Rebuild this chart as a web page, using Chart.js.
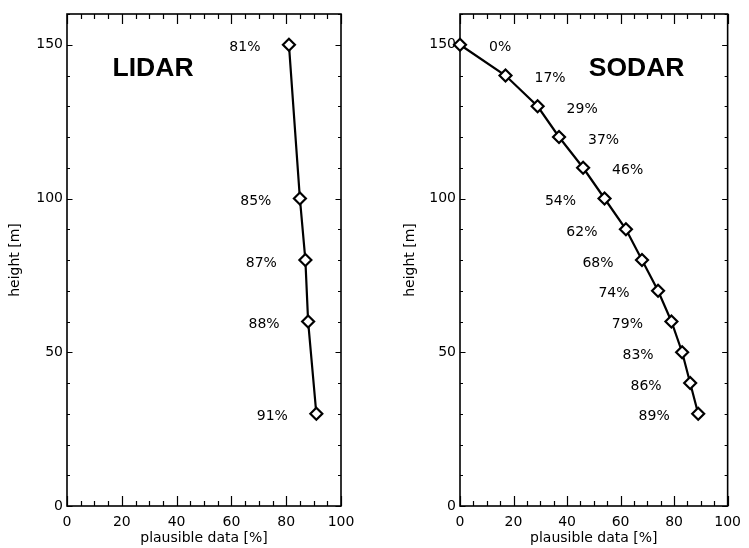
<!DOCTYPE html>
<html>
<head>
<meta charset="utf-8">
<script src="https://cdn.jsdelivr.net/npm/chart.js@4"></script>
<style>
  html, body { margin: 0; padding: 0; background: #fff; }
  #wrap { position: relative; width: 749px; height: 548px; }
  #wrap canvas { position: absolute; top: 0; }
</style>
</head>
<body>
<div id="wrap">
  <canvas id="lidar" width="374" height="548" style="left:0"></canvas>
  <canvas id="sodar" width="375" height="548" style="left:374px"></canvas>
</div>
<script>
// heights [m] and share of plausible data [%] per instrument
const lidarHeights = [150, 100, 80, 60, 30];
const lidarPlausible = [81, 85, 87, 88, 91];

const sodarHeights = [150, 140, 130, 120, 110, 100, 90, 80, 70, 60, 50, 40, 30];
const sodarPlausible = [0, 17, 29, 37, 46, 54, 62, 68, 74, 79, 83, 86, 89];

const xMajor = 20, xStep = 5;
const yMajor = 50, yStep = 10;

const FONT = '"DejaVu Sans", Verdana, sans-serif';
const NAME_FONT = '"Liberation Sans", Arial, Helvetica, sans-serif';
Chart.defaults.font.family = FONT;
Chart.defaults.font.size = 14;
Chart.defaults.color = '#000';

// IDL style box: frame plus inward ticks on all four sides,
// percentage labels beside each point and the panel name
const boxPlot = {
  id: 'boxPlot',
  beforeDatasetsDraw(chart) {
    const { ctx, chartArea: a, scales: { x, y } } = chart;
    ctx.save();
    ctx.strokeStyle = '#000';
    ctx.lineWidth = 1.2;
    ctx.beginPath();
    x.ticks.forEach(t => {
      const px = Math.round(x.getPixelForValue(t.value)) + 0.5;
      const len = t.value % xMajor === 0 ? 10 : 5;
      ctx.moveTo(px, a.bottom); ctx.lineTo(px, a.bottom - len);
      ctx.moveTo(px, a.top); ctx.lineTo(px, a.top + len);
    });
    y.ticks.forEach(t => {
      const py = Math.round(y.getPixelForValue(t.value)) + 0.5;
      const len = t.value % yMajor === 0 ? 5.5 : 3;
      ctx.moveTo(a.left, py); ctx.lineTo(a.left + len, py);
      ctx.moveTo(a.right, py); ctx.lineTo(a.right - len, py);
    });
    ctx.stroke();
    ctx.lineWidth = 1.6;
    ctx.strokeRect(a.left, a.top, a.right - a.left, a.bottom - a.top);
    ctx.restore();
  },
  afterDatasetsDraw(chart, args, opts) {
    const { ctx, chartArea: a } = chart;
    const meta = chart.getDatasetMeta(0);
    const values = chart.data.datasets[0].data;
    ctx.save();
    ctx.fillStyle = '#000';
    ctx.font = '14px ' + FONT;
    ctx.textBaseline = 'alphabetic';
    meta.data.forEach((pt, i) => {
      const v = values[i].x;
      const right = v < 50;
      ctx.textAlign = right ? 'left' : 'right';
      ctx.fillText(v + '%', pt.x + (right ? 29 : -28.5), pt.y + 6.5);
    });
    ctx.font = 'bold 26.5px ' + NAME_FONT;
    ctx.textAlign = 'center';
    ctx.fillText(opts.name, a.left + (a.right - a.left) * opts.nameAt, a.top + 62);
    ctx.restore();
  }
};

function makePanel(id, name, nameAt, heights, plausible, axisWidth, padRight, titleGap) {
  const points = heights.map((h, i) => ({ x: plausible[i], y: h }));
  return new Chart(document.getElementById(id), {
    type: 'line',
    data: {
      datasets: [{
        data: points,
        borderColor: '#000',
        borderWidth: 2.2,
        tension: 0,
        clip: false,
        pointStyle: 'rectRot',
        pointRadius: 6,
        pointBorderWidth: 2.2,
        pointBorderColor: '#000',
        pointBackgroundColor: '#fff'
      }]
    },
    options: {
      responsive: false,
      animation: false,
      events: [],
      layout: { padding: { top: 14, right: padRight, bottom: 0, left: 0 } },
      plugins: {
        legend: { display: false },
        tooltip: { enabled: false },
        boxPlot: { name, nameAt }
      },
      scales: {
        x: {
          type: 'linear',
          min: 0, max: 100,
          grid: { display: false, drawTicks: false },
          border: { display: false },
          ticks: {
            stepSize: xStep, autoSkip: false, maxRotation: 0, padding: 8,
            callback: v => (v % xMajor === 0 ? v : '')
          },
          title: { display: true, text: 'plausible data [%]', padding: { top: 0, bottom: 1 } },
          afterFit: s => { s.height = 42; }
        },
        y: {
          type: 'linear',
          min: 0, max: 160,
          grid: { display: false, drawTicks: false },
          border: { display: false },
          ticks: {
            stepSize: yStep, autoSkip: false, padding: 4,
            callback: v => (v % yMajor === 0 ? v : '')
          },
          title: { display: true, text: 'height [m]', padding: { top: titleGap, bottom: 0 } },
          afterFit: s => { s.width = axisWidth; }
        }
      }
    },
    plugins: [boxPlot]
  });
}

makePanel('lidar', 'LIDAR', 0.314, lidarHeights, lidarPlausible, 67, 33, 6.6);
makePanel('sodar', 'SODAR', 0.66, sodarHeights, sodarPlausible, 86, 16, 27.6);
</script>
</body>
</html>
